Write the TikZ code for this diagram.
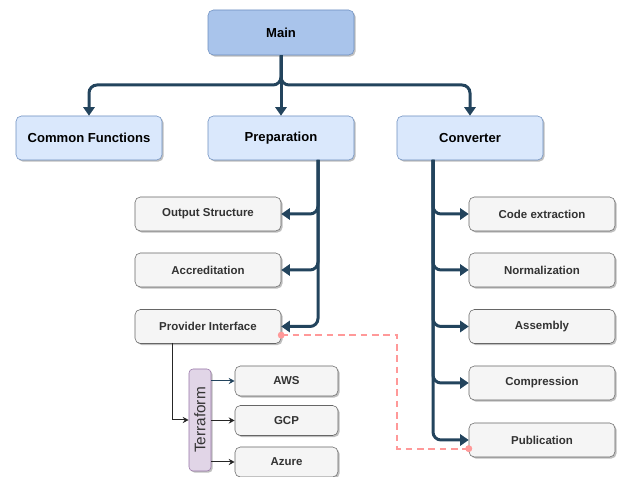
\documentclass[tikz,border=0pt]{standalone}
\usepackage{fontspec}
\setmainfont{Liberation Sans}
\usepackage{tikz}
\usetikzlibrary{positioning,arrows.meta,shadows,calc}

\definecolor{mainblue}{HTML}{A9C4EB}
\definecolor{lightblue}{HTML}{DAE8FC}
\definecolor{blueline}{HTML}{6C8EBF}
\definecolor{boxgray}{HTML}{F5F5F5}
\definecolor{linegray}{HTML}{666666}
\definecolor{textgray}{HTML}{333333}
\definecolor{tfpurple}{HTML}{E1D5E7}
\definecolor{purpleline}{HTML}{9673A6}
\definecolor{trunkblue}{HTML}{23445D}
\definecolor{linkpink}{HTML}{FF9999}

\tikzset{
  boxshadow/.style={drop shadow={shadow xshift=1.2pt,shadow yshift=-1.2pt,opacity=0.25,fill=black}},
  topbox/.style={draw=blueline,fill=lightblue,rounded corners=4pt,minimum width=109.5pt,minimum height=33pt,font=\fontsize{9.8}{12}\selectfont\bfseries,boxshadow},
  mainbox/.style={topbox,fill=mainblue,minimum height=33.75pt},
  subbox/.style={draw=linegray,fill=boxgray,rounded corners=4pt,minimum width=109.5pt,minimum height=25.5pt,text=textgray,font=\fontsize{8.6}{10}\selectfont\bfseries,boxshadow},
  cloudbox/.style={subbox,minimum width=77.25pt,minimum height=22.5pt},
  toolbox/.style={draw=purpleline,fill=tfpurple,rounded corners=3pt,minimum width=16.5pt,minimum height=76.5pt,inner sep=0pt,text=textgray,font=\fontsize{11.5}{13}\selectfont,boxshadow},
  trunk/.style={draw=trunkblue,line width=2.25pt,rounded corners=6pt,-{Triangle[width=8.5pt,length=6.5pt]}},
  twig/.style={draw=black!85,line width=0.75pt,-{Stealth[width=4.5pt,length=4.5pt]}},
  link/.style={draw=linkpink,line width=1.4pt,dash pattern=on 5pt off 3.5pt},
  linkdot/.style={circle,fill=linkpink,inner sep=0pt,minimum size=5pt}
}

\begin{document}
\begin{tikzpicture}[x=0.75pt,y=0.75pt,yscale=-1,xscale=1]
        \useasboundingbox (0,0) rectangle (619,477);
        
        % Top level
        \node [mainbox] (main) at (281,32.5) {Main};
        \node [topbox] (common) at (89,138) {Common Functions};
        \node [topbox] (prep) at (281,138) {Preparation};
        \node [topbox] (conv) at (470,138) {Converter};
        
        % Preparation column
        \node [subbox] (outstruct) at (208,214) {Output Structure};
        \node [subbox] (accred) at (208,270) {Accreditation};
        \node [subbox] (provider) at (208,326.5) {Provider Interface};
        
        % Terraform and clouds
        \node [toolbox] (terraform) at (200,420) {\rotatebox{90}{Terraform}};
        \node [cloudbox] (aws) at (286.5,381) {AWS};
        \node [cloudbox] (gcp) at (286.5,420.5) {GCP};
        \node [cloudbox] (azure) at (286.5,462) {Azure};
        
        % Converter column
        \node [subbox] (codeext) at (542,214) {Code extraction};
        \node [subbox] (norm) at (542,270) {Normalization};
        \node [subbox] (assembly) at (542,326.5) {Assembly};
        \node [subbox] (compress) at (542,383) {Compression};
        \node [subbox] (publish) at (542,440) {Publication};
        
        % Junctions
        \coordinate (split) at (281,85);
        \coordinate (preptrunk) at (318,160);
        \coordinate (convtrunk) at (433,160);
        \coordinate (pidrop) at (172,343);
        \coordinate (bend) at (397,0);
        
        % Main to first level
        \draw [trunk] (main.south) -- (split) -| (common.north);
        \draw [trunk] (main.south) -- (split) -| (conv.north);
        \draw [trunk] (main.south) -- (prep.north);
        
        % Preparation branches
        \draw [trunk] (preptrunk) |- (outstruct.east);
        \draw [trunk] (preptrunk) |- (accred.east);
        \draw [trunk] (preptrunk) |- (provider.east);
        
        % Converter branches
        \draw [trunk] (convtrunk) |- (codeext.west);
        \draw [trunk] (convtrunk) |- (norm.west);
        \draw [trunk] (convtrunk) |- (assembly.west);
        \draw [trunk] (convtrunk) |- (compress.west);
        \draw [trunk] (convtrunk) |- (publish.west);
        
        % Provider to clouds
        \draw [twig] (pidrop) |- (terraform.west);
        \draw [twig,draw=trunkblue] (aws -| terraform.east) -- (aws.west);
        \draw [twig] (gcp -| terraform.east) -- (gcp.west);
        \draw [twig] (azure -| terraform.east) -- (azure.west);
        
        % Dashed link
        \node [linkdot] (pidot) at ($(provider.east)!0.5!(provider.south east)$) {};
        \node [linkdot] (pubdot) at ($(publish.west)!0.5!(publish.south west)$) {};
        \draw [link] (pidot.center) -- (pidot -| bend) |- (pubdot.center);
        \node [linkdot] at (pidot) {};
        \node [linkdot] at (pubdot) {};
\end{tikzpicture}
\end{document}
